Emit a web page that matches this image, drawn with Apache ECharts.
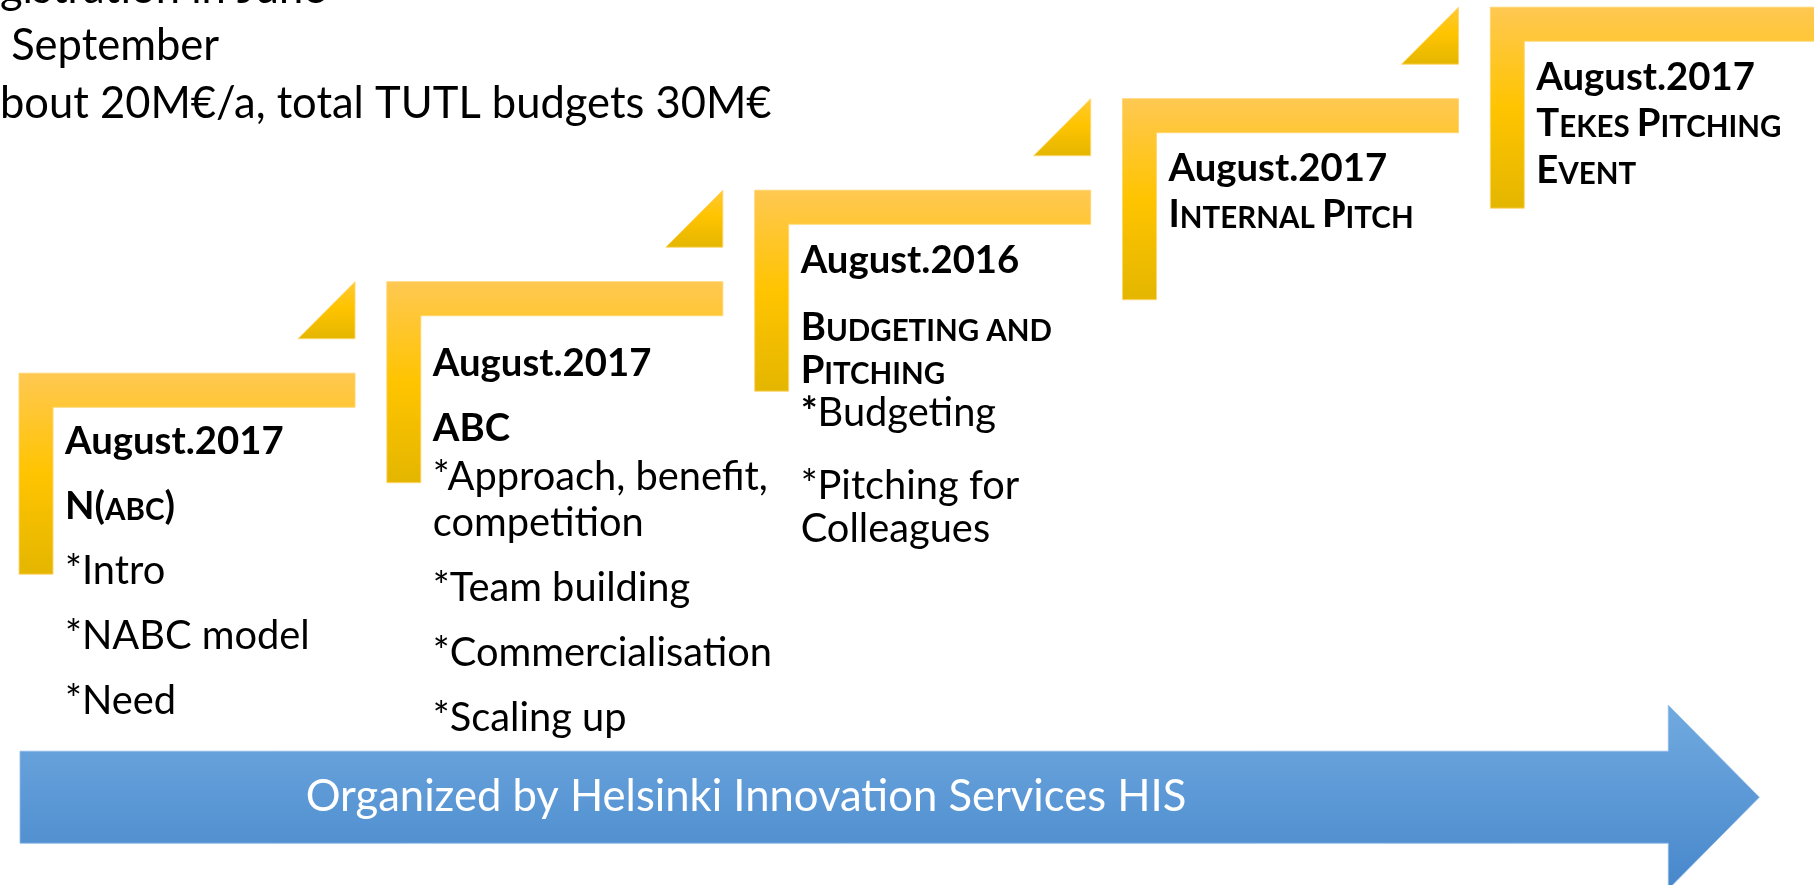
<!DOCTYPE html>
<html>
<head>
<meta charset="utf-8">
<title>NABC programme steps</title>
<script src="https://cdn.jsdelivr.net/npm/echarts@6/dist/echarts.min.js"></script>
<style>
  html, body { margin: 0; padding: 0; background: #fff; }
  #main { width: 1814px; height: 885px; }
</style>
</head>
<body>
<div id="main"></div>
<script>
"use strict";
// programme stages, one step up the stair each
var stages = [0, 1, 2, 3, 4];
var stageDates = ['August.2017', 'August.2017', 'August.2016', 'August.2017', 'August.2017'];
// lowercase letters are drawn as small caps
var stageTitles = [['N(abc)'], ['ABC'], ['Budgeting and', 'Pitching'], ['Internal Pitch'], ['Tekes Pitching', 'Event']];
var stageItems = [
    [['*Intro'], ['*NABC model'], ['*Need']],
    [['*Approach, benefit,', 'competition'], ['*Team building'], ['*Commercialisation'], ['*Scaling up']],
    [['*Budgeting'], ['*Pitching for', 'Colleagues']],
    [],
    []
];
var boldStarItems = ['*Budgeting'];
var arrowSpan = [0, 4];
var arrowText = 'Organized by Helsinki Innovation Services HIS';
var noteLines = ['gistration in June', ' September', 'bout 20M\u20AC/a, total TUTL budgets 30M\u20AC'];

var FONT = 'Lato, "Open Sans", sans-serif';

// sizes in px
var layout = {
    step: { length: 336, thick: 34, height: 201, tri: 57, textX: 46 },
    firstLine: [68, 82, 70, 70, 70],
    dateGap: [65, 65, 67, 46, 46],
    titleGap: [65, 48, 43, 0, 0],
    paraGap: [65, 65, 73, 0, 0],
    wrapGap: [45, 46, 43, 46, 47],
    text: { bold: 38.3, regular: 39.8, small: 29.5 },
    note: { size: 43.5, lineHeight: 57.5, y: -40 },
    arrow: { startPad: 1, tipPad: 269, headLen: 91, drop: 424, body: 46, head: 92, textX: 726, size: 43.6 }
};

function yellowFill() {
    return new echarts.graphic.LinearGradient(0, 0, 0, 1, [
        { offset: 0, color: '#FFC852' },
        { offset: 0.5, color: '#FFC400' },
        { offset: 1, color: '#E4B600' }
    ]);
}

function triFill() {
    return new echarts.graphic.LinearGradient(0, 0, 0, 1, [
        { offset: 0, color: '#FFC935' },
        { offset: 0.45, color: '#FFC400' },
        { offset: 1, color: '#E4B600' }
    ]);
}

function smallCaps(line) {
    var out = '', cur = null, buf = '';
    for (var k = 0; k < line.length; k++) {
        var ch = line[k];
        var kind = (ch >= 'a' && ch <= 'z') ? 's' : 'c';
        if (ch === ' ' && cur) kind = cur;
        if (kind !== cur && buf) {
            out += '{' + cur + '|' + buf + '}';
            buf = '';
        }
        cur = kind;
        buf += kind === 's' ? ch.toUpperCase() : ch;
    }
    if (buf) out += '{' + cur + '|' + buf + '}';
    return out;
}

function textEl(x, y, text, weight, rich) {
    var st = {
        x: x, y: y, text: text, fill: '#000',
        fontFamily: FONT,
        fontSize: weight === 'bold' ? layout.text.bold : layout.text.regular,
        fontWeight: weight,
        align: 'left', verticalAlign: 'middle'
    };
    if (rich) st.rich = rich;
    return { type: 'text', style: st };
}

var titleRich = {
    c: { fontFamily: FONT, fontWeight: 'bold', fontSize: layout.text.bold, verticalAlign: 'bottom' },
    s: { fontFamily: FONT, fontWeight: 'bold', fontSize: layout.text.small, verticalAlign: 'bottom' }
};
var starRich = {
    b: { fontFamily: FONT, fontWeight: 'bold', fontSize: layout.text.regular }
};

function renderStep(params, api) {
    var i = params.dataIndex;
    var S = layout.step;
    var p = api.coord([api.value(0), api.value(1)]);
    var x0 = p[0], y0 = p[1];
    var children = [{
        type: 'polygon',
        shape: { points: [
            [x0, y0], [x0 + S.length, y0], [x0 + S.length, y0 + S.thick],
            [x0 + S.thick, y0 + S.thick], [x0 + S.thick, y0 + S.height], [x0, y0 + S.height]
        ] },
        style: { fill: yellowFill(), stroke: 'rgba(255,214,110,0.9)', lineWidth: 1 }
    }];
    if (i < stages.length - 1) {
        var q = api.coord([stages[i + 1], stages[i + 1]]);
        var r = x0 + S.length, t = q[1];
        children.push({
            type: 'polygon',
            shape: { points: [[r, t], [r, t + S.tri], [r - S.tri, t + S.tri]] },
            style: { fill: triFill(), stroke: 'rgba(255,214,110,0.9)', lineWidth: 1 }
        });
    }

    var tx = x0 + S.textX;
    var y = y0 + layout.firstLine[i];
    children.push(textEl(tx, y, stageDates[i], 'bold'));
    y += layout.dateGap[i];
    stageTitles[i].forEach(function (line, k) {
        if (k > 0) y += layout.wrapGap[i];
        children.push(textEl(tx, y, smallCaps(line), 'bold', titleRich));
    });
    stageItems[i].forEach(function (par, k) {
        y += k === 0 ? layout.titleGap[i] : layout.paraGap[i];
        par.forEach(function (line, m) {
            if (m > 0) y += layout.wrapGap[i];
            if (boldStarItems.indexOf(line) >= 0) {
                children.push(textEl(tx, y, '{b|*}' + line.slice(1), 'normal', starRich));
            } else {
                children.push(textEl(tx, y, line, 'normal'));
            }
        });
    });
    return { type: 'group', children: children };
}

function renderArrow(params, api) {
    var A = layout.arrow;
    var a = api.coord([api.value(0), 0]);
    var b = api.coord([api.value(1), 0]);
    var left = a[0] + A.startPad;
    var tip = b[0] + A.tipPad;
    var hs = tip - A.headLen;
    var cy = a[1] + A.drop;
    return {
        type: 'group',
        children: [{
            type: 'polygon',
            shape: { points: [
                [left, cy - A.body], [hs, cy - A.body], [hs, cy - A.head], [tip, cy],
                [hs, cy + A.head], [hs, cy + A.body], [left, cy + A.body]
            ] },
            style: {
                fill: new echarts.graphic.LinearGradient(0, 0, 0, 1, [
                    { offset: 0, color: '#71AAE0' },
                    { offset: 1, color: '#4787CB' }
                ]),
                stroke: 'rgba(140,185,232,0.8)', lineWidth: 1
            }
        }, {
            type: 'text',
            style: {
                x: left + A.textX, y: cy, text: arrowText, fill: '#fff',
                fontFamily: FONT, fontSize: A.size, align: 'center', verticalAlign: 'middle'
            }
        }]
    };
}

var chart = echarts.init(document.getElementById('main'));
var option = {
    animation: false,
    backgroundColor: '#fff',
    grid: { left: 0, right: 0, top: 0, bottom: 0 },
    // stage index across, stair level up
    xAxis: { type: 'value', min: -0.0517, max: 4.880, show: false },
    yAxis: { type: 'value', min: -5.593, max: 4.0787, show: false },
    graphic: [{
        type: 'text',
        x: 0,
        y: layout.note.y,
        style: {
            text: noteLines.join('\n'), fill: '#000',
            fontFamily: FONT, fontSize: layout.note.size, lineHeight: layout.note.lineHeight,
            align: 'left', verticalAlign: 'top'
        }
    }],
    series: [{
        type: 'custom',
        renderItem: renderArrow,
        silent: true,
        data: [arrowSpan]
    }, {
        type: 'custom',
        renderItem: renderStep,
        silent: true,
        data: stages.map(function (s) { return [s, s]; })
    }]
};
chart.setOption(option);
</script>
</body>
</html>
